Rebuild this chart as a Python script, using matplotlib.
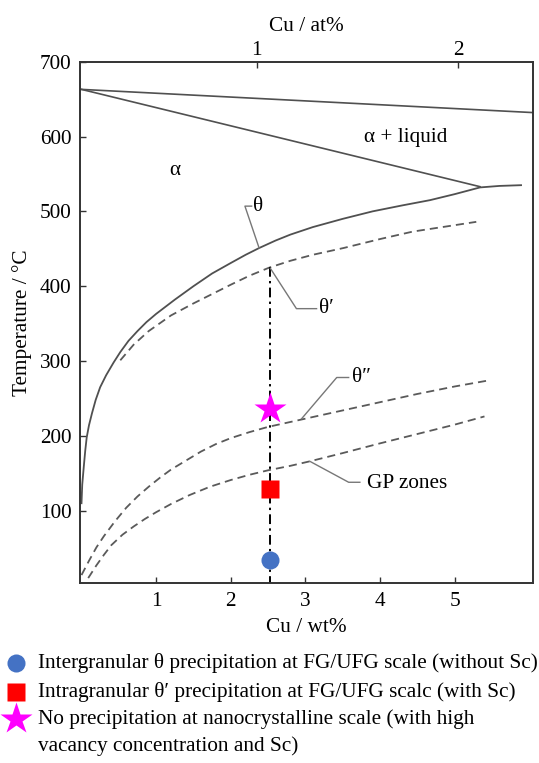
import matplotlib.pyplot as plt
from matplotlib.lines import Line2D

plt.rcParams['font.family'] = ['Liberation Serif', 'DejaVu Serif']

# phase boundaries, Cu (wt%) vs temperature (°C)
liquidus_wt = [0.0, 6.05]
liquidus_T = [663, 632]
solidus_wt = [0.0, 5.34]
solidus_T = [663, 533]

theta_wt = [0.0, 0.01, 0.03, 0.05, 0.07, 0.1, 0.14, 0.19, 0.25, 0.33, 0.43, 0.52,
            0.63, 0.75, 0.87, 1.0, 1.25, 1.5, 1.75, 2.0, 2.2, 2.38, 2.6, 2.8,
            3.1, 3.5, 3.9, 4.3, 4.67, 5.0, 5.34, 5.6, 5.89]
theta_T = [110, 135, 158, 180, 198, 214, 230, 248, 265, 281, 298, 312,
           327, 340, 352, 363, 382, 400, 417, 431, 442, 451, 461, 469,
           479, 490, 500, 508, 515, 523, 532, 534, 535]

theta1_wt = [0.52, 0.7, 0.9, 1.2, 1.5, 1.72, 2.0, 2.25, 2.52, 2.8, 3.1, 3.51,
             4.0, 4.44, 4.9, 5.29]
theta1_T = [301, 322, 340, 361, 377, 388, 402, 414, 425, 434, 442, 451,
            463, 473, 480, 486]

theta2_wt = [0.0, 0.1, 0.2, 0.3, 0.45, 0.6, 0.75, 0.9, 1.05, 1.2, 1.4, 1.6,
             1.8, 2.0, 2.25, 2.5, 3.0, 3.5, 4.0, 4.5, 5.0, 5.45]
theta2_T = [14, 33, 51, 66, 86, 104, 119, 132, 144, 155, 167, 179,
            189, 197, 205, 212, 223, 234, 245, 256, 266, 274]

gp_wt = [0.09, 0.2, 0.3, 0.4, 0.55, 0.7, 0.85, 1.0, 1.2, 1.45, 1.72, 2.0,
         2.25, 2.5, 2.8, 3.06, 3.5, 4.0, 4.44, 5.0, 5.4]
gp_T = [10, 27, 41, 54, 68, 79, 89, 98, 109, 121, 132, 141,
        148, 154, 160, 166, 177, 190, 201, 215, 226]

# alloy composition and the three processing states
alloy_wt = 2.52
solvus_at_alloy = 425
circle_T = 34
square_T = 129
star_T = 236

# top axis: atomic percent
at_ticks = ['1', '2']
at_tick_wt = [2.35, 5.05]

legend_labels = [
    'Intergranular θ precipitation at FG/UFG scale (without Sc)',
    'Intragranular θ′ precipitation at FG/UFG scalc (with Sc)',
    'No precipitation at nanocrystalline scale (with high\nvacancy concentration and Sc)',
]

W, H = 539, 763
fig = plt.figure(figsize=(W / 100, H / 100), dpi=100)
ax = fig.add_axes([80 / W, 1 - 583.3 / H, (533 - 80) / W, (583.3 - 61.7) / H])

line_c = '#505050'
dash_c = '#5a5a5a'
ax.plot(liquidus_wt, liquidus_T, color=line_c, lw=1.2)
ax.plot(solidus_wt, solidus_T, color=line_c, lw=1.2)
ax.plot(theta_wt, theta_T, color=line_c, lw=1.3)
for xs, ys in [(theta1_wt, theta1_T), (theta2_wt, theta2_T), (gp_wt, gp_T)]:
    ln, = ax.plot(xs, ys, color=dash_c, lw=1.3)
    ln.set_dashes([4.5, 2.8])

vl, = ax.plot([alloy_wt, alloy_wt], [solvus_at_alloy, 0], color='black', lw=1.4)
vl.set_dashes([5, 2.2, 1.2, 2.2])

ax.plot(alloy_wt, circle_T, 'o', color='#4472c4', ms=13, mec='none', zorder=5)
ax.plot(alloy_wt, square_T, 's', color='#ff0000', ms=13, mec='none', zorder=5)
ax.plot(alloy_wt, star_T, '*', color='#ff00ff', ms=24, mec='none', zorder=5)

# leader lines for the curve labels
lead_c = '#777777'
ax.plot([2.28, 2.19, 2.38], [507, 507, 451], color=lead_c, lw=1)
ax.plot([2.53, 2.88, 3.15], [424, 370, 370], color=lead_c, lw=1)
ax.plot([2.95, 3.42, 3.58], [223, 278, 278], color=lead_c, lw=1)
ax.plot([3.06, 3.58, 3.73], [166, 138, 138], color=lead_c, lw=1)

fs = 15.3
ax.text(2.3, 506, 'θ', fontsize=fs, va='center', ha='left')
ax.text(3.18, 370, 'θ′', fontsize=fs, va='center', ha='left')
ax.text(3.62, 278, 'θ″', fontsize=fs, va='center', ha='left')
ax.text(3.82, 137, 'GP zones', fontsize=fs, va='center', ha='left')
ax.text(4.35, 599, 'α + liquid', fontsize=fs, va='center', ha='center')
ax.text(1.25, 554, 'α', fontsize=fs, va='center', ha='center')

ax.set_xlim(-0.02, 6.05)
ax.set_ylim(3, 700)
ax.set_xticks([1, 2, 3, 4, 5])
ax.set_yticks([100, 200, 300, 400, 500, 600, 700])
ax.tick_params(direction='in', length=4, width=1, labelsize=fs, pad=6, color='#333333')
ax.set_xlabel('Cu / wt%', fontsize=fs, labelpad=5)
ax.set_ylabel('Temperature / °C', fontsize=fs, labelpad=6)
for s in ax.spines.values():
    s.set_color('#333333')
    s.set_linewidth(1.2)

top = ax.twiny()
top.set_xlim(ax.get_xlim())
top.set_xticks(at_tick_wt)
top.set_xticklabels(at_ticks)
top.tick_params(direction='in', length=4, width=1, labelsize=fs, pad=1.5, color='#333333')
top.set_xlabel('Cu / at%', fontsize=fs, labelpad=7)
for s in top.spines.values():
    s.set_color('#333333')
    s.set_linewidth(1.2)

# legend block under the plot
rows_y = [663, 692, 719]
line_step = 27
handles = [dict(marker='o', color='#4472c4', ms=13),
           dict(marker='s', color='#ff0000', ms=13),
           dict(marker='*', color='#ff00ff', ms=24)]
for y, h, lab in zip(rows_y, handles, legend_labels):
    fig.add_artist(Line2D([15.5 / W], [1 - y / H], transform=fig.transFigure,
                          ls='none', mec='none', **h))
    for k, part in enumerate(lab.split('\n')):
        fig.text(37.5 / W, 1 - (y + k * line_step) / H, part, fontsize=15.3,
                 va='center', ha='left')

fig.savefig('out.png', dpi=100)
